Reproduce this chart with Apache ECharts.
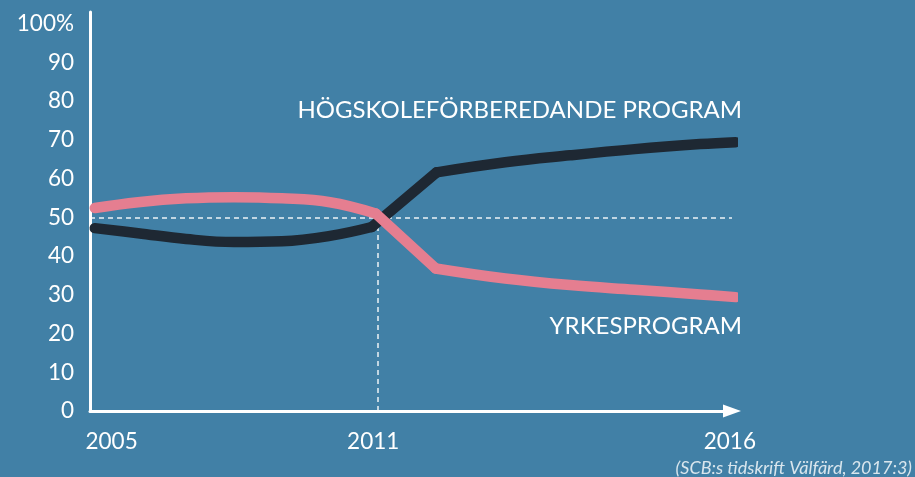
<!DOCTYPE html>
<html>
<head>
<meta charset="utf-8">
<script src="https://cdn.jsdelivr.net/npm/echarts@6/dist/echarts.min.js"></script>
<style>
    html, body { margin: 0; padding: 0; background: #4180a6; }
    #chart { width: 915px; height: 477px; }
</style>
</head>
<body>
<div id="chart"></div>
<script>
// x position along the (illustrative, not linear) time axis, 2005 = 0, 2011 = 6
var hogPos = [0.1, 1, 2, 3, 4, 5, 5.87, 7.22, 8.65, 10, 11.35, 12.71, 13.45];
var hogVal = [47.2, 45.9, 44.4, 43.6, 43.8, 45.2, 47.5, 61.6, 64.2, 66.0, 67.6, 68.9, 69.4];
var hogCorners = [6, 7];

var yrkPos = [0.1, 1, 2, 3, 4, 5, 5.95, 7.2, 8.65, 10, 11.35, 12.71, 13.45];
var yrkVal = [52.4, 53.9, 54.9, 55.2, 54.9, 53.9, 51.0, 36.8, 34.2, 32.5, 31.3, 30.1, 29.4];
var yrkCorners = [6, 7];

var xTickPos = [0.45, 5.9, 13.33];
var xTickLabels = ['2005', '2011', '2016'];
var yTicks = [0, 10, 20, 30, 40, 50, 60, 70, 80, 90, 100];

var xMark = 6;      // 2011
var yMark = 50;

var FONT = 'Lato';
var chartDom = document.getElementById('chart');
var myChart = echarts.init(chartDom);

// split a line into pieces at its sharp corners, each piece is smoothed on its own
function pieces(name, pos, val, corners, color) {
    var cuts = [0].concat(corners).concat([pos.length - 1]);
    var out = [];
    for (var i = 0; i < cuts.length - 1; i++) {
        var d = [];
        for (var j = cuts[i]; j <= cuts[i + 1]; j++) d.push([pos[j], val[j]]);
        out.push({
            name: name,
            type: 'line',
            data: d,
            smooth: d.length > 2 ? 0.4 : false,
            showSymbol: false,
            clip: false,
            silent: true,
            z: 3,
            lineStyle: { color: color, width: 10.5, cap: 'round', join: 'round' }
        });
    }
    return out;
}

var series = []
    .concat(pieces('Högskoleförberedande program', hogPos, hogVal, hogCorners, '#1e2833'))
    .concat(pieces('Yrkesprogram', yrkPos, yrkVal, yrkCorners, '#e57e90'));

// dashed guide lines
series[0].markLine = {
    silent: true,
    symbol: 'none',
    z: 1,
    label: { show: false },
    lineStyle: { color: '#ffffff', type: [5, 4], width: 1.5, opacity: 0.9 },
    data: [
        [{ coord: [0, yMark] }, { coord: [13.375, yMark] }],
        [{ coord: [xMark, 0] }, { coord: [xMark, yMark] }]
    ]
};

var option = {
    backgroundColor: '#4180a6',
    animation: false,
    grid: { left: 90, right: 183, top: 12, bottom: 66 },
    xAxis: {
        type: 'value',
        min: 0,
        max: 13.375,
        splitLine: { show: false },
        axisTick: { show: false },
        axisLine: {
            lineStyle: { color: '#ffffff', width: 3 },
            symbol: ['none', 'triangle'],
            symbolSize: [13, 18]
        },
        axisLabel: {
            customValues: xTickPos,
            color: '#ffffff',
            fontFamily: FONT,
            fontSize: 22.5,
            margin: 19,
            formatter: function (v) {
                for (var i = 0; i < xTickPos.length; i++)
                    if (Math.abs(xTickPos[i] - v) < 1e-6) return xTickLabels[i];
                return '';
            }
        }
    },
    yAxis: {
        type: 'value',
        min: 0,
        max: 103,
        splitLine: { show: false },
        axisTick: { show: false },
        axisLine: { show: true, lineStyle: { color: '#ffffff', width: 3 } },
        axisLabel: {
            customValues: yTicks,
            color: '#ffffff',
            fontFamily: FONT,
            fontSize: 22.5,
            margin: 16,
            formatter: function (v) { return v === 100 ? '100%' : String(v); }
        }
    },
    graphic: [
        {
            type: 'text', x: 742, y: 110,
            style: { text: 'HÖGSKOLEFÖRBEREDANDE PROGRAM', fill: '#ffffff', font: '24px ' + FONT, align: 'right', verticalAlign: 'middle' }
        },
        {
            type: 'text', x: 742, y: 326,
            style: { text: 'YRKESPROGRAM', fill: '#ffffff', font: '24px ' + FONT, align: 'right', verticalAlign: 'middle' }
        },
        {
            type: 'text', x: 912, y: 468,
            style: { text: '(SCB:s tidskrift Välfärd, 2017:3)', fill: 'rgba(255,255,255,0.8)', font: 'italic 18px ' + FONT, align: 'right', verticalAlign: 'middle' }
        }
    ],
    series: series
};

myChart.setOption(option);
</script>
</body>
</html>
